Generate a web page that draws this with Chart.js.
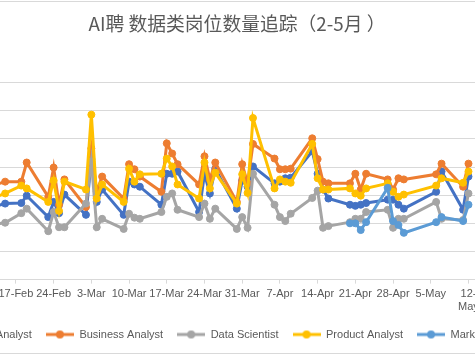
<!DOCTYPE html>
<html>
<head>
<meta charset="utf-8">
<script src="https://cdn.jsdelivr.net/npm/chart.js@4"></script>
<style>
  html, body { margin: 0; padding: 0; background: #fff; }
  body { width: 475px; height: 356px; overflow: hidden; position: relative; }
  #c { position: absolute; left: -118px; top: 0; }
</style>
</head>
<body>
<canvas id="c" width="710" height="356"></canvas>
<script>
// ---- data ----
const dates = [
  '2019-02-12','2019-02-15','2019-02-18','2019-02-19','2019-02-23','2019-02-24','2019-02-25','2019-02-26',
  '2019-03-02','2019-03-03','2019-03-04','2019-03-05',
  '2019-03-09','2019-03-10','2019-03-11','2019-03-12',
  '2019-03-16','2019-03-17','2019-03-18','2019-03-19',
  '2019-03-23','2019-03-24','2019-03-25','2019-03-26',
  '2019-03-30','2019-03-31','2019-04-01','2019-04-02',
  '2019-04-06','2019-04-07','2019-04-08','2019-04-09',
  '2019-04-13','2019-04-14','2019-04-15','2019-04-16',
  '2019-04-20','2019-04-21','2019-04-22','2019-04-23',
  '2019-04-27','2019-04-28','2019-04-29','2019-04-30',
  '2019-05-06','2019-05-07','2019-05-11','2019-05-12'
];
const seriesNames = ['Data Analyst','Business Analyst','Data Scientist','Product Analyst','Marketing Analyst'];
const dataAnalyst = [127,135,136,149,111,138,118,151, 115,214,138,160, 115,174,169,165, 133,188,188,192, 120,188,153,197, 126,176,165,201, 171,174,180,181, 228,188,160,144, 133,131,133,136, 142,142,133,126, 156,192,124,183];
const businessAnalyst = [165,174,174,208,147,199,133,178, 129,233,156,183, 144,205,196,183, 156,242,224,205, 169,219,178,208, 138,205,171,241, 215,196,196,197, 251,214,174,171, 171,188,160,188, 178,160,180,178, 187,206,165,206];
const dataScientist = [97,101,118,126,86,120,93,93, 135,210,93,108, 90,117,110,108, 120,147,153,124, 111,135,108,126, 90,111,92,188, 133,111,104,117, 145,158,92,95, 102,108,108,120, 124,92,108,108, 138,108,106,153];
const productAnalyst = [142,153,167,162,138,176,122,174, 160,293,144,169, 138,197,174,187, 188,215,201,169, 144,208,162,190, 135,187,154,287, 162,178,174,172, 241,180,160,160, 162,153,149,162, 171,156,147,151, 167,180,172,192];
const marketingAnalyst = [null,null,null,null,null,null,null,null, null,null,null,null, null,null,null,null, null,null,null,null, null,null,null,null, null,null,null,null, null,null,null,null, null,null,null,null, 100,100,88,102, 163,104,97,83, 102,111,104,133];
const tickLabels = ['17-Feb','24-Feb','3-Mar','10-Mar','17-Mar','24-Mar','31-Mar','7-Apr','14-Apr','21-Apr','28-Apr','5-May',['12-','May']];
const colors = ['#4472C4','#ED7D31','#A5A5A5','#FFC000','#5B9BD5'];
const titleText = 'AI聘 数据类岗位数量追踪（2-5月 ）';

// ---- helpers ----
const baseDay = Date.UTC(2019, 1, 24);
const dayOf = s => Math.round((Date.parse(s + 'T00:00:00Z') - baseDay) / 86400000);
const xs = dates.map(dayOf);
const firstTick = dayOf('2019-02-17');
const allSeries = [dataAnalyst, businessAnalyst, dataScientist, productAnalyst, marketingAnalyst];

function marker(color) {
  const c = document.createElement('canvas');
  c.width = 28; c.height = 10;
  const g = c.getContext('2d');
  g.strokeStyle = color; g.lineWidth = 3;
  g.beginPath(); g.moveTo(0, 5); g.lineTo(28, 5); g.stroke();
  g.fillStyle = color;
  g.beginPath(); g.arc(14, 5, 4, 0, Math.PI * 2); g.fill();
  return c;
}
const markers = colors.map(marker);

const datasets = allSeries.map((arr, i) => ({
  label: seriesNames[i],
  data: arr.map((v, k) => ({ x: xs[k], y: v })),
  borderColor: colors[i],
  backgroundColor: colors[i],
  pointBackgroundColor: colors[i],
  pointBorderColor: colors[i],
  borderWidth: 3,
  pointRadius: 3.5,
  pointBorderWidth: 1,
  tension: 0,
  spanGaps: false,
  order: allSeries.length - 1 - i
}));

const borderPlugin = {
  id: 'chartBorder',
  beforeDraw(chart) {
    const ctx = chart.ctx;
    ctx.save();
    ctx.fillStyle = '#ffffff';
    ctx.fillRect(0, 0, chart.width, chart.height);
    ctx.strokeStyle = '#D9D9D9';
    ctx.lineWidth = 1;
    ctx.strokeRect(0.5, 1.5, chart.width - 1, 352);
    ctx.restore();
  }
};

new Chart(document.getElementById('c'), {
  type: 'line',
  data: { datasets },
  plugins: [borderPlugin],
  options: {
    responsive: false,
    animation: false,
    devicePixelRatio: 1,
    layout: { padding: { left: 0, right: 0, top: 0, bottom: 6 } },
    plugins: {
      title: {
        display: true,
        text: titleText,
        color: '#595959',
        font: { family: '"Noto Sans CJK SC", "Noto Sans", sans-serif', size: 18.8, weight: 'normal' },
        padding: { top: 13, bottom: 47 }
      },
      legend: {
        position: 'bottom',
        labels: {
          usePointStyle: true,
          pointStyleWidth: 28,
          padding: 14,
          color: '#595959',
          font: { family: '"Liberation Sans", Arial, sans-serif', size: 11 },
          generateLabels: (chart) => chart.data.datasets.map((ds, i) => ({
            text: ds.label,
            fillStyle: colors[i],
            strokeStyle: colors[i],
            lineWidth: 0,
            pointStyle: markers[i],
            fontColor: '#595959',
            hidden: false,
            datasetIndex: i
          }))
        }
      },
      tooltip: { enabled: false }
    },
    scales: {
      x: {
        type: 'linear',
        min: -21,
        max: 99,
        ticks: {
          stepSize: 7,
          autoSkip: false,
          maxRotation: 0,
          minRotation: 0,
          padding: 4,
          color: '#595959',
          font: { family: '"Liberation Sans", Arial, sans-serif', size: 11 },
          callback: (v) => {
            const k = (v - firstTick) / 7;
            if (!Number.isInteger(k) || k < 0 || k >= tickLabels.length) return '';
            return tickLabels[k];
          }
        },
        grid: { drawOnChartArea: false, drawTicks: true, tickLength: 4, color: '#D9D9D9' },
        border: { display: true, color: '#D9D9D9', width: 1 },
        afterFit: (s) => { s.height = s.height - 3; }
      },
      y: {
        min: 0,
        max: 350,
        ticks: { stepSize: 50, display: false },
        grid: { color: '#D9D9D9', lineWidth: 1, drawTicks: false },
        border: { display: false },
        afterFit: (s) => { s.width = 58.5; }
      }
    }
  }
});
</script>
</body>
</html>
